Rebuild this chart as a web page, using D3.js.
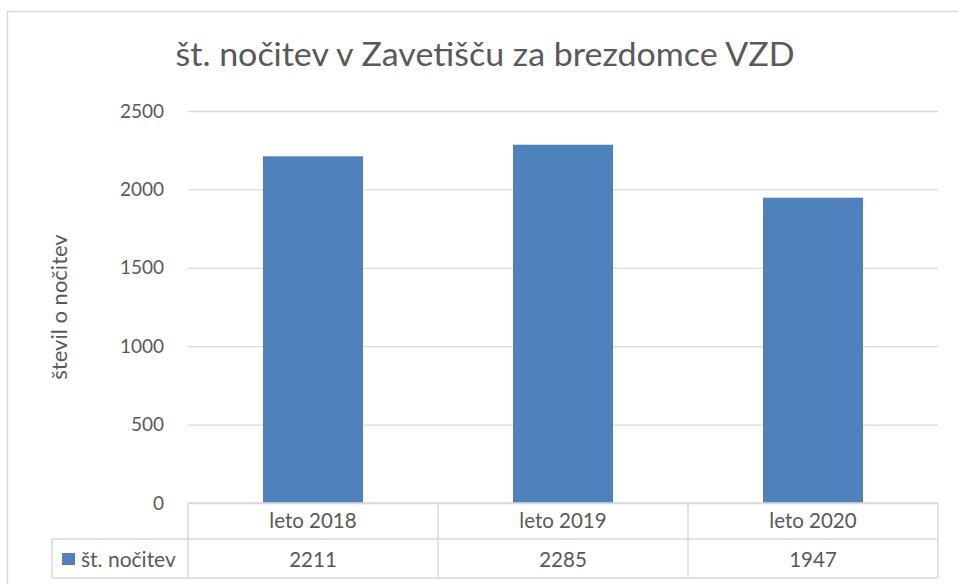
<!DOCTYPE html>
<html>
<head>
<meta charset="utf-8">
<script src="https://cdn.jsdelivr.net/npm/d3@7"></script>
<style>
  body { margin: 0; background: #fff; }
  svg { display: block; font-family: Lato, "Open Sans", sans-serif; }
</style>
</head>
<body>
<div id="chart"></div>
<script>
const title = "št. nočitev v Zavetišču za brezdomce VZD";
const yTitle = "števil o nočitev";
const seriesName = "št. nočitev";
const categories = ["leto 2018", "leto 2019", "leto 2020"];
const values = [2211, 2285, 1947];
const yTicks = [0, 500, 1000, 1500, 2000, 2500];

const width = 958;
const height = 584;
const grey = "#595959";
const lineColor = "#d9d9d9";
const barColor = "#4f81bd";

const plot = {left: 188, right: 938, top: 111, bottom: 503};
const rowY = [503, 539, 578];
const legendLeft = 52;

const svg = d3.select("#chart").append("svg")
    .attr("width", width)
    .attr("height", height);

// chart frame (only top and left edges show)
svg.append("path")
    .attr("d", `M7.5,${height} V11.5 H${width}`)
    .attr("fill", "none")
    .attr("stroke", lineColor)
    .attr("stroke-width", 1.5);

svg.append("text")
    .attr("x", 485)
    .attr("y", 66)
    .attr("text-anchor", "middle")
    .attr("fill", grey)
    .style("font-size", "32px")
    .attr("textLength", 619)
    .attr("lengthAdjust", "spacingAndGlyphs")
    .text(title);

const x = d3.scaleBand()
    .domain(categories)
    .range([plot.left, plot.right])
    .paddingInner(0.6)
    .paddingOuter(0.3);

const xCol = d3.scaleBand()
    .domain(categories)
    .range([plot.left, plot.right]);

const y = d3.scaleLinear()
    .domain([0, 2500])
    .range([plot.bottom, plot.top]);

const yAxis = svg.append("g")
    .attr("transform", `translate(${plot.left},0)`)
    .call(d3.axisLeft(y)
        .tickValues(yTicks)
        .tickSize(-(plot.right - plot.left))
        .tickPadding(24)
        .tickFormat(d3.format("d")));

yAxis.select(".domain").remove();
yAxis.selectAll(".tick line")
    .attr("stroke", lineColor)
    .attr("stroke-width", 1.3);
yAxis.selectAll(".tick text")
    .attr("fill", grey)
    .style("font-size", "19px")
    .style("font-family", "Lato, sans-serif");

svg.append("text")
    .attr("transform", `translate(67,307) rotate(-90)`)
    .attr("text-anchor", "middle")
    .attr("fill", grey)
    .style("font-size", "22px")
    .text(yTitle);

svg.append("g")
  .selectAll("rect")
  .data(values)
  .join("rect")
    .attr("x", (d, i) => x(categories[i]))
    .attr("y", d => y(d))
    .attr("width", x.bandwidth())
    .attr("height", d => y(0) - y(d))
    .attr("fill", barColor);

// data table
const table = svg.append("g")
    .attr("fill", "none")
    .attr("stroke", lineColor)
    .attr("stroke-width", 1.5);

table.append("line")
    .attr("x1", plot.left).attr("x2", plot.right)
    .attr("y1", rowY[0]).attr("y2", rowY[0]);
table.selectAll(".hline")
  .data(rowY.slice(1))
  .join("line")
    .attr("class", "hline")
    .attr("x1", legendLeft).attr("x2", plot.right)
    .attr("y1", d => d).attr("y2", d => d);
table.selectAll(".vline")
  .data(categories.map(c => xCol(c)).concat([plot.right]))
  .join("line")
    .attr("class", "vline")
    .attr("x1", d => d).attr("x2", d => d)
    .attr("y1", rowY[0]).attr("y2", rowY[2]);
table.append("line")
    .attr("x1", legendLeft).attr("x2", legendLeft)
    .attr("y1", rowY[1]).attr("y2", rowY[2]);

const cellText = svg.append("g")
    .attr("fill", grey)
    .attr("text-anchor", "middle")
    .style("font-size", "20.5px");

cellText.selectAll(".cat")
  .data(categories)
  .join("text")
    .attr("class", "cat")
    .attr("x", d => xCol(d) + xCol.bandwidth() / 2)
    .attr("y", 528)
    .text(d => d);

cellText.selectAll(".val")
  .data(values)
  .join("text")
    .attr("class", "val")
    .attr("x", (d, i) => xCol(categories[i]) + xCol.bandwidth() / 2)
    .attr("y", 567)
    .text(d => d);

svg.append("rect")
    .attr("x", 62)
    .attr("y", 553)
    .attr("width", 13)
    .attr("height", 12)
    .attr("fill", barColor);

svg.append("text")
    .attr("x", 81)
    .attr("y", 567)
    .attr("fill", grey)
    .style("font-size", "21px")
    .text(seriesName);
</script>
</body>
</html>
